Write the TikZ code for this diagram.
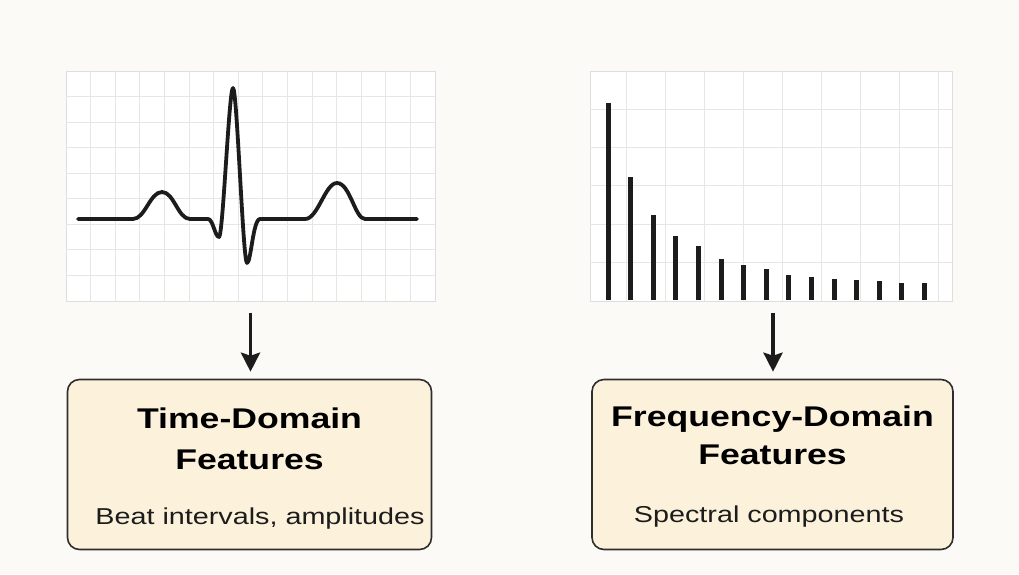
\documentclass[tikz,border=0pt]{standalone}
\usepackage{fontspec}
\setmainfont{Liberation Sans}[FakeStretch=1.25]
\usepackage{tikz}
\usetikzlibrary{arrows.meta, positioning}

\definecolor{pagebg}{HTML}{FBFAF6}
\definecolor{gridcol}{HTML}{E6E6E4}
\definecolor{framecol}{HTML}{DEDEDC}
\definecolor{inkcol}{HTML}{1C1C1C}
\definecolor{boxfill}{HTML}{FCF2DC}
\definecolor{boxline}{HTML}{2E2E2E}

\tikzset{every node/.style={align=center, inner sep=0pt}}

\begin{document}
\begin{tikzpicture}[x=1pt, y=-1pt,
    panel/.style={rectangle, draw=framecol, line width=1pt, fill=white,
                  minimum width=369pt, minimum height=230pt},
    gridline/.style={draw=gridcol, line width=0.9pt},
    trace/.style={draw=inkcol, line width=3.8pt, line join=round, line cap=round},
    bar/.style={draw=inkcol, line width=5pt},
    arrow/.style={draw=inkcol, line width=3.6pt,
                  -{Stealth[length=19pt, width=19pt, inset=3pt]}},
    featbox/.style={rectangle, rounded corners=12pt, draw=boxline, line width=1.6pt,
                    fill=boxfill, minimum width=364pt, minimum height=170pt},
    titletext/.style={font=\fontsize{28.5}{34}\selectfont\bfseries, text=black, anchor=base},
    subtext/.style={font=\fontsize{23}{28}\selectfont, text=inkcol, anchor=base}
]
  \fill[pagebg] (0,0) rectangle (1019,574);
  \useasboundingbox (0,0) rectangle (1019,574);

  % --- ECG panel ---
  \node[panel] (ecg) at (250.5,186) {};
  \foreach \k in {1,...,14}
    \draw[gridline] (66+24.6*\k,71) -- (66+24.6*\k,301);
  \foreach \k in {1,...,8}
    \draw[gridline] (66,71+25.56*\k) -- (435,71+25.56*\k);
  \draw[trace] (78,219) -- (133,219)
    .. controls (145,219) and (150,192) .. (162,192)
    .. controls (174,192) and (178,219) .. (190,219) -- (208,219)
    .. controls (213,219) and (215,237) .. (219,237)
    .. controls (223,237) and (229,88) .. (233,88)
    .. controls (237,88) and (243,263) .. (247,263)
    .. controls (251,263) and (253,219) .. (260,219) -- (305,219)
    .. controls (318,219) and (325,183) .. (337,183)
    .. controls (350,183) and (355,219) .. (365,219) -- (417,219);

  % --- spectrum panel ---
  \node[panel, minimum width=362pt] (spec) at (771,186) {};
  \foreach \k in {0,...,8}
    \draw[gridline] (626+39.1*\k,71) -- (626+39.1*\k,301);
  \foreach \k in {1,...,5}
    \draw[gridline] (590,71+38.3*\k) -- (952,71+38.3*\k);
  \foreach \t [count=\i from 0] in {103,177,215,236,246,259,265,269,275,277,279,280,281,283,283}
    \draw[bar] (608+22.6*\i,300) -- (608+22.6*\i,\t);

  % --- feature boxes ---
  \node[featbox] (tdf) at (249.5,464.5) {};
  \node[titletext] (tdfA) at (249.5,428) {Time-Domain};
  \node[titletext] (tdfB) at (249.5,469) {Features};
  \node[subtext]   (tdfC) at (260,524) {Beat intervals, amplitudes};

  \node[featbox, minimum width=361pt] (fdf) at (772.5,464.5) {};
  \node[titletext] (fdfA) at (772.5,426) {Frequency-Domain};
  \node[titletext] (fdfB) at (772.5,464) {Features};
  \node[subtext]   (fdfC) at (769,522) {Spectral components};

  % --- arrows ---
  \draw[arrow, shorten <=11pt, shorten >=7pt] (ecg.south) -- (ecg.south |- tdf.north);
  \draw[arrow, shorten <=11pt, shorten >=7pt] ([xshift=2pt]spec.south) -- ([xshift=2pt]spec.south |- fdf.north);
\end{tikzpicture}
\end{document}
